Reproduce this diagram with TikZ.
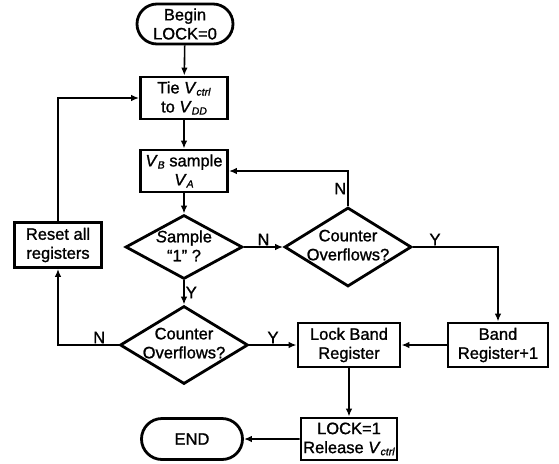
\documentclass[tikz,border=0pt]{standalone}
\usepackage{fontspec}
\setmainfont[FakeBold=1.2]{Liberation Sans}
\usepackage{tikz}
\usetikzlibrary{shapes.geometric,shapes.misc,arrows.meta}
\tikzstyle{stepbox} = [rectangle,draw,line width=2.8pt,align=center,inner sep=0pt,
    minimum width=87pt,minimum height=42pt]
\tikzstyle{terminal} = [rounded rectangle,draw,line width=2.8pt,align=center,inner sep=0pt,
    minimum width=98pt,minimum height=40pt]
\tikzstyle{decision} = [diamond,draw,line width=2.8pt,inner sep=0pt]
\tikzstyle{flow} = [line width=1.6pt,-{Latex[length=8pt,width=6.5pt]}]
\tikzstyle{yn} = [inner sep=1pt]
\newcommand{\vsig}[1]{\textit{V}\raisebox{-0.25ex}{\fontsize{10.5}{10.5}\selectfont\textit{#1}}}
\newcommand{\dtext}[2]{\begin{tabular}{@{}c@{}}#1\\#2\end{tabular}}

\begin{document}
\begin{tikzpicture}[x=1pt,y=-1pt,font=\fontsize{16.5}{19}\selectfont]
	\useasboundingbox (0,0) rectangle (559,463);
	
	\node(begin) at (185,24) [terminal,minimum width=96pt] {Begin\\LOCK=0};
	\node(tie) at (184,98) [stepbox] {Tie \vsig{ctrl}\\to \vsig{DD}};
	\node(vb) at (184,171) [stepbox] {\vsig{B} sample\\\vsig{A}};
	\node(sample) at (184,247) [decision,minimum width=117pt,minimum height=64pt,
		label={[name=sampletxt,yshift=-1pt]center:\dtext{\textit{S}ample}{“1” ?}}] {};
	\node(cntup) at (348,247) [decision,minimum width=127pt,minimum height=79pt,
		label={[name=cntuptxt]center:\dtext{Counter}{Overflows?}}] {};
	\node(reset) at (58,245) [stepbox,minimum height=45pt] {Reset all\\registers};
	\node(cntdown) at (184,345) [decision,minimum width=128pt,minimum height=78pt,
		label={[name=cntdowntxt]center:\dtext{Counter}{Overflows?}}] {};
	\node(lock) at (349,345) [stepbox,minimum width=102pt,minimum height=44pt] {Lock Band\\Register};
	\node(band) at (498,345) [stepbox,minimum width=100pt,minimum height=44pt] {Band\\Register+1};
	\node(release) at (349,439) [stepbox,minimum width=96pt] {LOCK=1\\Release \vsig{ctrl}};
	\node(end) at (192,439) [terminal,minimum width=101pt,minimum height=41pt] {END};
	
	% main column
	\draw[flow] (begin) -- (tie);
	\draw[flow] (tie) -- (vb);
	\draw[flow] (vb) -- (sample);
	\draw[flow] (sample) -- node(sn)[yn,above] {N} (cntup);
	\draw[flow] (sample) -- node(sy)[yn,right] {Y} (cntdown);
	
	% loops
	\draw[flow] (cntup.north) |- node(cn)[yn,left,pos=0.25] {N} (vb.east);
	\draw[flow] (cntup.east) -| node(cy)[yn,above,pos=0.13] {Y} (band.north);
	\draw[flow] (cntdown.west) -| node(dn)[yn,above,pos=0.16] {N} (reset.south);
	\draw[flow] (reset.north) |- (tie.west);
	\draw[flow] (cntdown.east) -- node(dy)[yn,above] {Y} (lock.west);
	
	% bottom
	\draw[flow] (band) -- (lock);
	\draw[flow] (lock) -- (release);
	\draw[flow] (release) -- (end);
	
\end{tikzpicture}
\end{document}
